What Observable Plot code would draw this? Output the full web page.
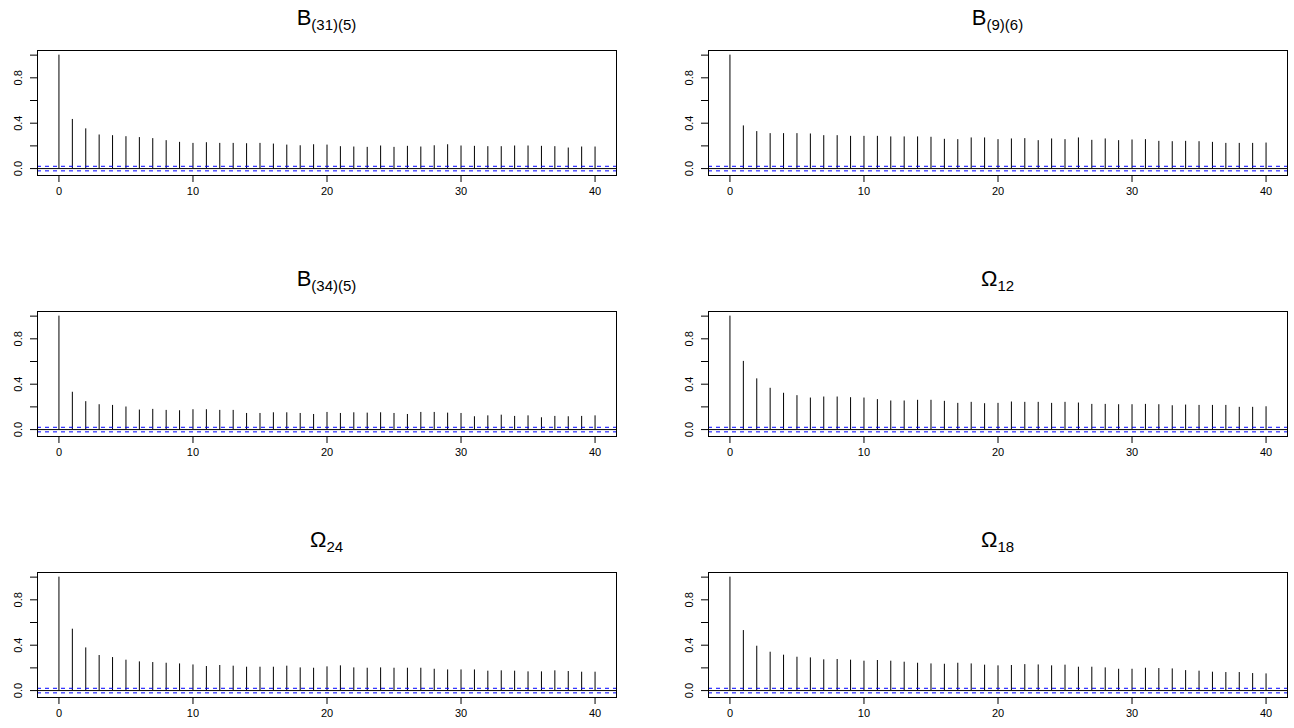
<!DOCTYPE html>
<html><head><meta charset="utf-8">
<script src="https://cdn.jsdelivr.net/npm/d3@7"></script>
<script src="https://cdn.jsdelivr.net/npm/@observablehq/plot@0.6"></script>
<style>
body{margin:0;background:#fff;}
#root{position:relative;width:1294px;height:728px;overflow:hidden;font-family:"Liberation Sans",Arial,Helvetica,sans-serif;background:#fff;}
.panel{position:absolute;}
.title{position:absolute;text-align:center;font-size:22px;line-height:22px;color:#000;white-space:nowrap;}
.title .sub{font-size:15px;position:relative;top:5px;}
</style></head><body><div id="root"></div>
<script>
const lags = d3.range(0, 41);
const titleMain = ["B", "B", "B", "Ω", "Ω", "Ω"];
const titleSub = ["(31)(5)", "(9)(6)", "(34)(5)", "12", "24", "18"];

const acfB31_5 = [1,0.433,0.35,0.296,0.29,0.281,0.273,0.264,0.246,0.231,0.222,0.228,0.222,0.222,0.219,0.222,0.216,0.207,0.201,0.21,0.207,0.193,0.19,0.187,0.199,0.187,0.196,0.19,0.201,0.21,0.199,0.196,0.193,0.193,0.199,0.199,0.196,0.193,0.181,0.19,0.19];
const acfB9_6 = [1,0.376,0.326,0.308,0.308,0.308,0.305,0.29,0.29,0.284,0.284,0.284,0.279,0.279,0.279,0.276,0.258,0.255,0.27,0.27,0.255,0.261,0.264,0.246,0.261,0.255,0.27,0.249,0.261,0.246,0.252,0.255,0.24,0.237,0.24,0.237,0.231,0.222,0.222,0.222,0.225];
const acfB34_5 = [1,0.329,0.246,0.219,0.213,0.199,0.172,0.178,0.169,0.166,0.175,0.175,0.169,0.169,0.142,0.142,0.148,0.148,0.142,0.133,0.151,0.142,0.148,0.145,0.148,0.142,0.133,0.151,0.151,0.145,0.142,0.113,0.121,0.127,0.116,0.121,0.104,0.116,0.113,0.116,0.121];
const acfOmega12 = [1,0.601,0.447,0.364,0.32,0.299,0.278,0.287,0.287,0.281,0.278,0.264,0.252,0.252,0.258,0.258,0.249,0.231,0.24,0.228,0.231,0.243,0.24,0.24,0.231,0.24,0.234,0.222,0.222,0.219,0.219,0.222,0.219,0.21,0.216,0.213,0.213,0.213,0.196,0.196,0.201];
const acfOmega24 = [1,0.541,0.376,0.309,0.291,0.268,0.253,0.247,0.241,0.235,0.226,0.212,0.221,0.215,0.206,0.206,0.206,0.215,0.2,0.197,0.209,0.218,0.2,0.197,0.2,0.197,0.197,0.197,0.188,0.182,0.182,0.182,0.171,0.174,0.171,0.165,0.165,0.174,0.168,0.162,0.162];
const acfOmega18 = [1,0.529,0.391,0.338,0.312,0.294,0.288,0.271,0.274,0.268,0.259,0.265,0.259,0.25,0.241,0.235,0.232,0.241,0.235,0.224,0.218,0.221,0.229,0.226,0.218,0.224,0.206,0.206,0.2,0.188,0.188,0.197,0.194,0.191,0.176,0.171,0.162,0.159,0.159,0.15,0.147];

const series = [acfB31_5, acfB9_6, acfB34_5, acfOmega12, acfOmega24, acfOmega18];
const ciValue = 0.0202;
const yTicks = [0, 0.2, 0.4, 0.6, 0.8, 1];
const yLabels = [0, 0.4, 0.8];
const xTicks = [0, 10, 20, 30, 40];

const W = 647, H = 204, MT = 50, MB = 29;
const colLeft = [0, 647], mLeft = [37, 61], mRight = [31, 7];
const rowTop = [0, 261, 522];
const font = '"Liberation Sans", Arial, Helvetica, sans-serif';
const root = document.getElementById("root");

series.forEach((vals, i) => {
  const col = i % 2, row = Math.floor(i / 2);
  const data = lags.map((lag, j) => ({lag, acf: vals[j]}));
  const lo = Math.min(-ciValue, d3.min(vals));
  const r = 1 - lo;
  const xr = d3.max(lags) - d3.min(lags);
  const chart = Plot.plot({
    width: W, height: H,
    marginLeft: mLeft[col], marginRight: mRight[col], marginTop: MT, marginBottom: MB,
    style: {fontFamily: font, fontSize: "11px", color: "#000", background: "transparent", overflow: "visible"},
    x: {domain: [d3.min(lags) - 0.04 * xr, d3.max(lags) + 0.04 * xr], label: null},
    y: {domain: [lo - 0.04 * r, 1 + 0.04 * r], label: null},
    marks: [
      Plot.ruleX(data, {x: "lag", y1: 0, y2: "acf", stroke: "#000", strokeWidth: 1}),
      Plot.ruleY([0], {stroke: "#000", strokeWidth: 1}),
      Plot.ruleY([ciValue, -ciValue], {stroke: "#0000ff", strokeWidth: 1, strokeDasharray: "4,4"}),
      Plot.frame({stroke: "#000", strokeWidth: 1}),
      Plot.axisX({ticks: xTicks, tickSize: 7, tickPadding: 5, label: null, fontSize: 11, fill: "#000", tickFormat: d => String(d)}),
      Plot.axisY({ticks: yTicks, tickSize: 7, label: null, tickFormat: () => ""}),
      Plot.text(yLabels, {y: d => d, text: d => d.toFixed(1), frameAnchor: "left", dx: -19, rotate: -90, textAnchor: "middle", lineAnchor: "middle", fontSize: 11, fill: "#000"})
    ]
  });
  const div = document.createElement("div");
  div.className = "panel";
  div.style.left = colLeft[col] + "px";
  div.style.top = rowTop[row] + "px";
  div.appendChild(chart);
  root.appendChild(div);

  const t = document.createElement("div");
  t.className = "title";
  t.style.left = (colLeft[col] + mLeft[col]) + "px";
  t.style.width = (W - mLeft[col] - mRight[col]) + "px";
  t.style.top = (rowTop[row] + 7) + "px";
  t.innerHTML = titleMain[i] + '<span class="sub">' + titleSub[i] + '</span>';
  root.appendChild(t);
});
</script></body></html>
